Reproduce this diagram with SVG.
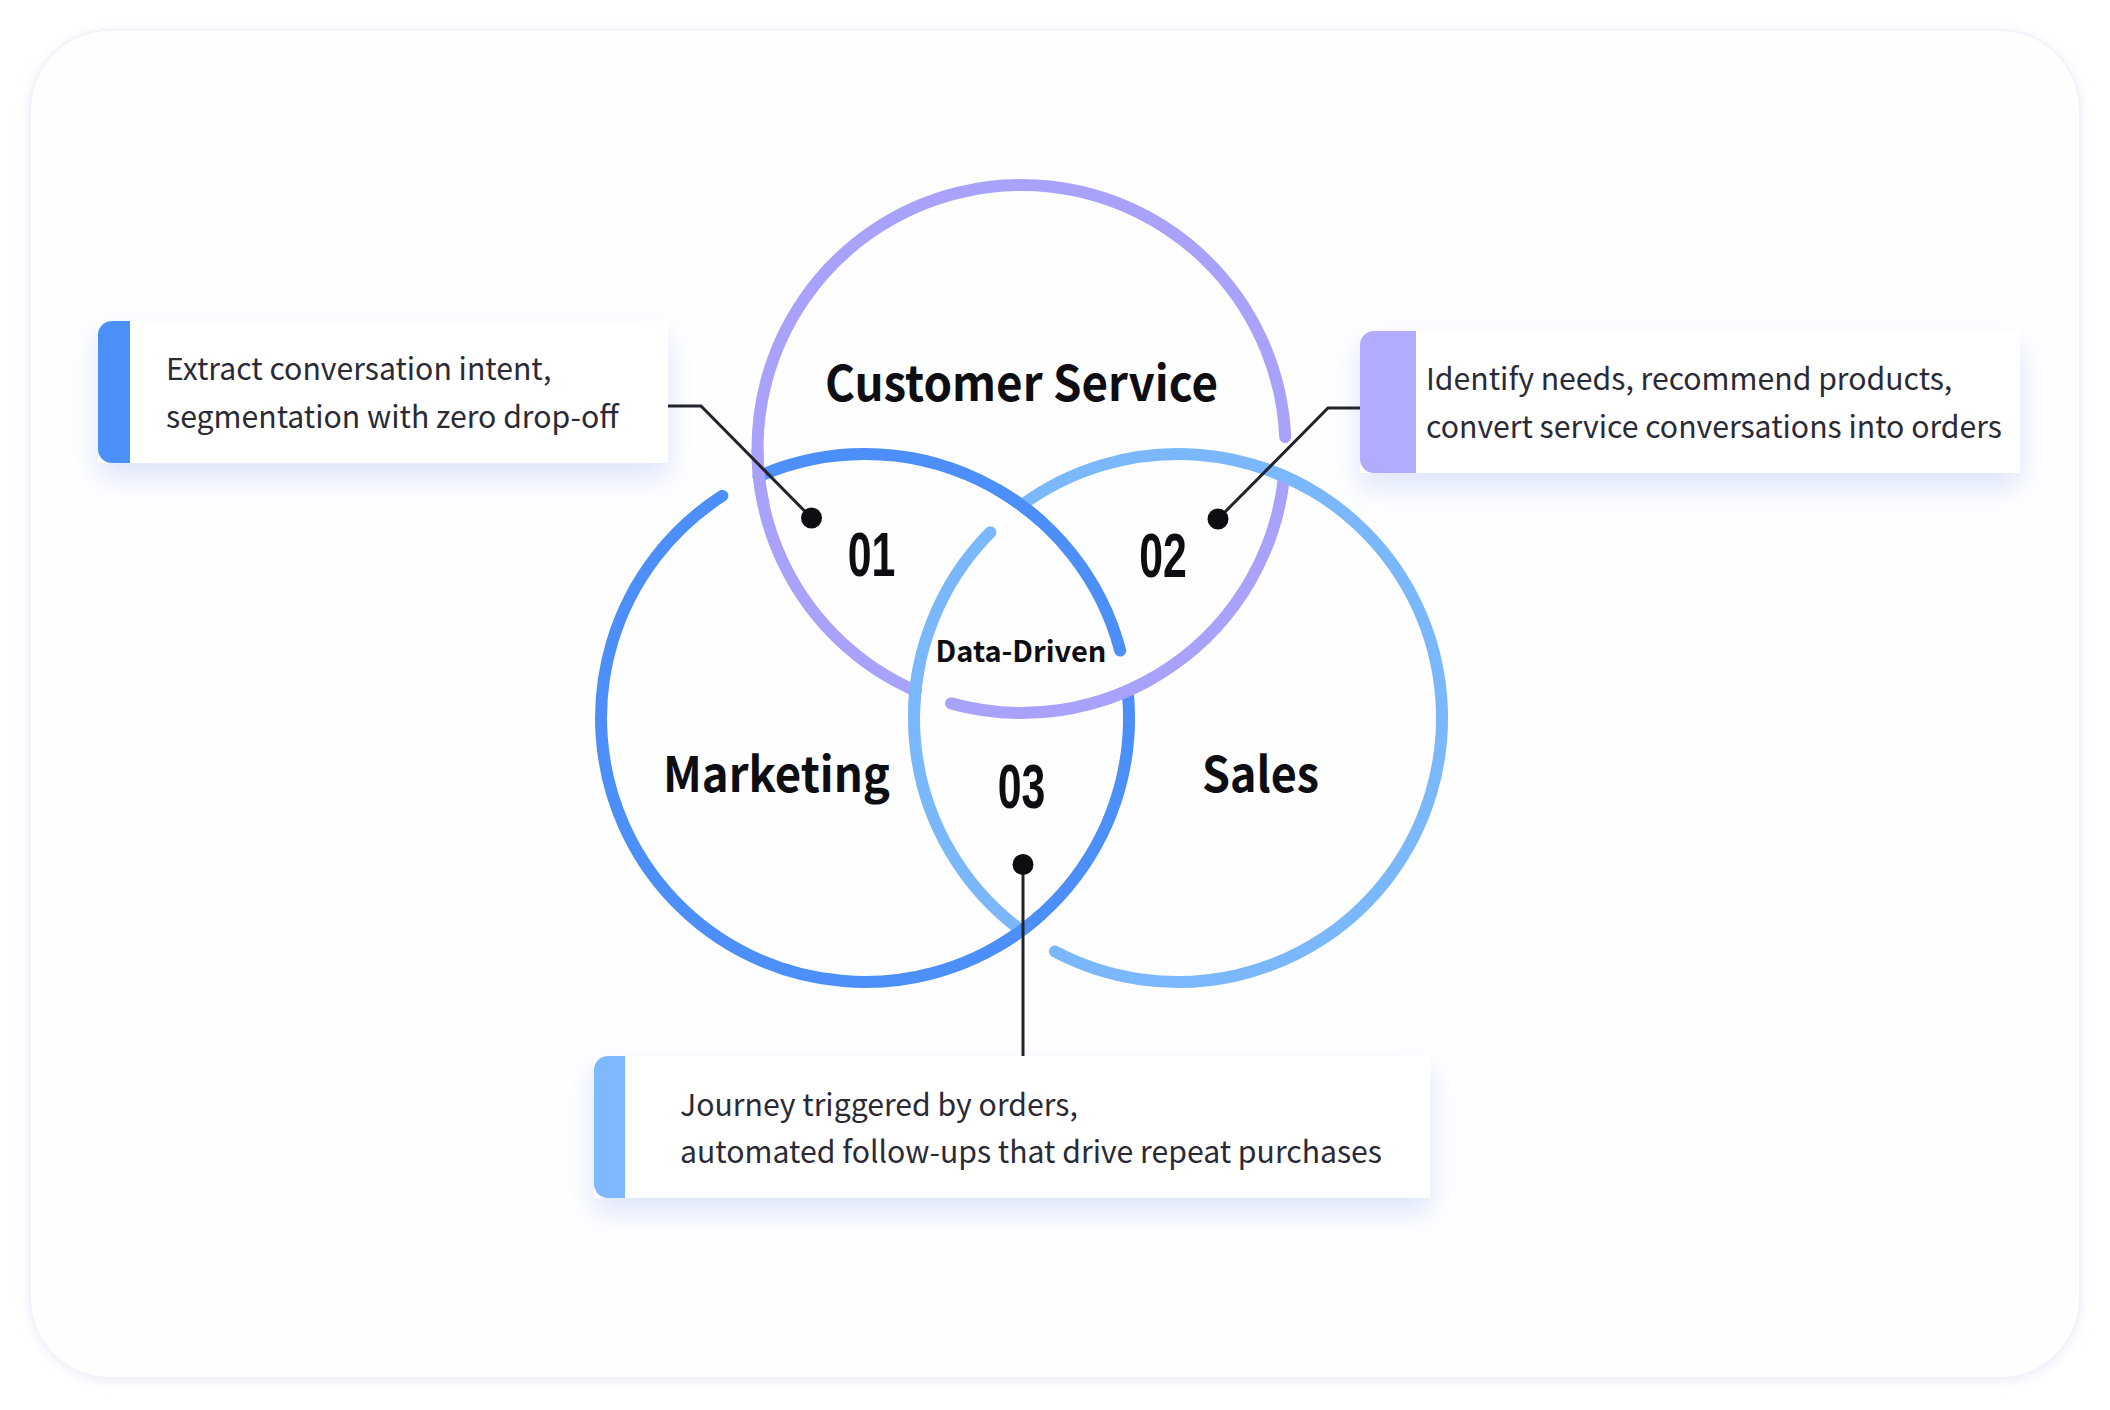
<svg xmlns="http://www.w3.org/2000/svg" width="2110" height="1410" viewBox="0 0 2110 1410">
  <defs>
    <filter id="cardShadow" x="-5%" y="-5%" width="110%" height="110%">
      <feDropShadow dx="0" dy="2" stdDeviation="6" flood-color="#dfe3f5" flood-opacity="0.6"/>
    </filter>
    <filter id="boxShadow" x="-10%" y="-30%" width="120%" height="170%">
      <feDropShadow dx="0" dy="14" stdDeviation="14" flood-color="#c5d3f7" flood-opacity="0.6"/>
    </filter>
    <style>
      .ring { fill: none; stroke-width: 12; stroke-linecap: round; }
      .over { fill: none; stroke-width: 12; stroke-linecap: butt; }
      .cs { stroke: #a9a2fb; }
      .mk { stroke: #4c8ff8; }
      .sl { stroke: #7ab8fb; }
      .label { font-family: "Noto Sans CJK SC", "Noto Sans", sans-serif; font-weight: 700; fill: #0d0d12; text-anchor: middle; }
      .num { font-family: "Liberation Sans", Arial, sans-serif; font-weight: 700; font-size: 63px; fill: #0d0d12; text-anchor: middle; }
      .desc { font-family: "Noto Sans CJK SC", "Noto Sans", sans-serif; font-weight: 400; font-size: 30.2px; fill: #2a2a36; }
      .box { fill: #ffffff; }
      .conn { fill: none; stroke: #22232b; stroke-width: 3; }
      .dot { fill: #0d0d12; }
    </style>
  </defs>

  <rect x="0" y="0" width="2110" height="1410" fill="#ffffff"/>
  <rect x="30" y="30" width="2050" height="1348" rx="80" ry="80" fill="#fefeff" stroke="#f2f3fa" stroke-width="2" filter="url(#cardShadow)"/>

  <!-- Venn rings -->
  <g id="rings">
    <g id="marketing-ring">
      <path class="ring mk" d="M 758.5 476.4 A 264 264 0 0 1 1120.2 650.6"/>
      <path class="ring mk" d="M 1127.6 690.4 A 264 264 0 1 1 722.4 495.8"/>
    </g>
    <g id="customer-service-ring">
      <path class="ring cs" d="M 1284.1 476.1 A 264 264 0 0 1 951.0 703.4"/>
      <path class="ring cs" d="M 915.8 690.9 A 264 264 0 1 1 1285.2 437.0"/>
    </g>
    <g id="sales-ring">
      <path class="ring sl" d="M 1021.3 505.5 A 264 264 0 1 1 1054.9 951.5"/>
      <path class="ring sl" d="M 1021.3 930.5 A 264 264 0 0 1 990.4 532.3"/>
    </g>
    <g id="crossings">
      <path class="over cs" d="M 757.5 449 A 264 264 0 0 0 763.3 503.9"/>
      <path class="over cs" d="M 1153.5 677.6 A 264 264 0 0 1 1103.1 700.1"/>
      <path class="over sl" d="M 1259.6 466.9 A 264 264 0 0 1 1310 489.4"/>
      <path class="over sl" d="M 914 718 A 264 264 0 0 1 919.8 663.1"/>
      <path class="over mk" d="M 997 489.4 A 264 264 0 0 1 1041.6 521.8"/>
      <path class="over mk" d="M 1041.6 914.2 A 264 264 0 0 1 997 946.6"/>
    </g>
  </g>

  <!-- Callout boxes -->
  <g id="box-01" filter="url(#boxShadow)">
    <rect class="box" x="98" y="321" width="570" height="142"/>
    <path d="M 112 321 H 130 V 463 H 112 A 14 14 0 0 1 98 449 V 335 A 14 14 0 0 1 112 321 Z" fill="#4c8ff8"/>
  </g>
  <g id="box-01-text">
    <text class="desc" x="166" y="380">Extract conversation intent,</text>
    <text class="desc" x="166" y="428">segmentation with zero drop-off</text>
  </g>

  <g id="box-02" filter="url(#boxShadow)">
    <rect class="box" x="1360" y="331" width="660" height="142"/>
    <path d="M 1374 331 H 1416 V 473 H 1374 A 14 14 0 0 1 1360 459 V 345 A 14 14 0 0 1 1374 331 Z" fill="#b1acfd"/>
  </g>
  <g id="box-02-text">
    <text class="desc" x="1426" y="390">Identify needs, recommend products,</text>
    <text class="desc" x="1426" y="438">convert service conversations into orders</text>
  </g>

  <g id="box-03" filter="url(#boxShadow)">
    <rect class="box" x="594" y="1056" width="836" height="142"/>
    <path d="M 608 1056 H 625 V 1198 H 608 A 14 14 0 0 1 594 1184 V 1070 A 14 14 0 0 1 608 1056 Z" fill="#7db9fc"/>
  </g>
  <g id="box-03-text">
    <text class="desc" x="680" y="1116">Journey triggered by orders,</text>
    <text class="desc" x="680" y="1163">automated follow-ups that drive repeat purchases</text>
  </g>

  <!-- Connectors -->
  <g id="connectors">
    <path class="conn" d="M 668 406 H 701 L 811.5 518"/>
    <path class="conn" d="M 1360 408 H 1328 L 1218 519"/>
    <path class="conn" d="M 1023 864.5 V 1056"/>
    <circle class="dot" cx="811.5" cy="518" r="10.5"/>
    <circle class="dot" cx="1218" cy="519" r="10.5"/>
    <circle class="dot" cx="1023" cy="864.5" r="10.5"/>
  </g>

  <!-- Labels -->
  <g id="label-customer-service"><text class="label" x="1021.5" y="401" font-size="49" textLength="393" lengthAdjust="spacingAndGlyphs">Customer Service</text></g>
  <g id="label-marketing"><text class="label" x="776.5" y="792" font-size="49" textLength="227" lengthAdjust="spacingAndGlyphs">Marketing</text></g>
  <g id="label-sales"><text class="label" x="1260.5" y="792" font-size="49" textLength="117" lengthAdjust="spacingAndGlyphs">Sales</text></g>
  <g id="label-data-driven"><text class="label" x="1021" y="662" font-size="29" fill="#1f1f28">Data-Driven</text></g>
  <g id="num-01"><text class="num" transform="translate(871.5 576) scale(0.68 1)">01</text></g>
  <g id="num-02"><text class="num" transform="translate(1163 577) scale(0.68 1)">02</text></g>
  <g id="num-03"><text class="num" transform="translate(1021.5 808) scale(0.68 1)">03</text></g>
</svg>
